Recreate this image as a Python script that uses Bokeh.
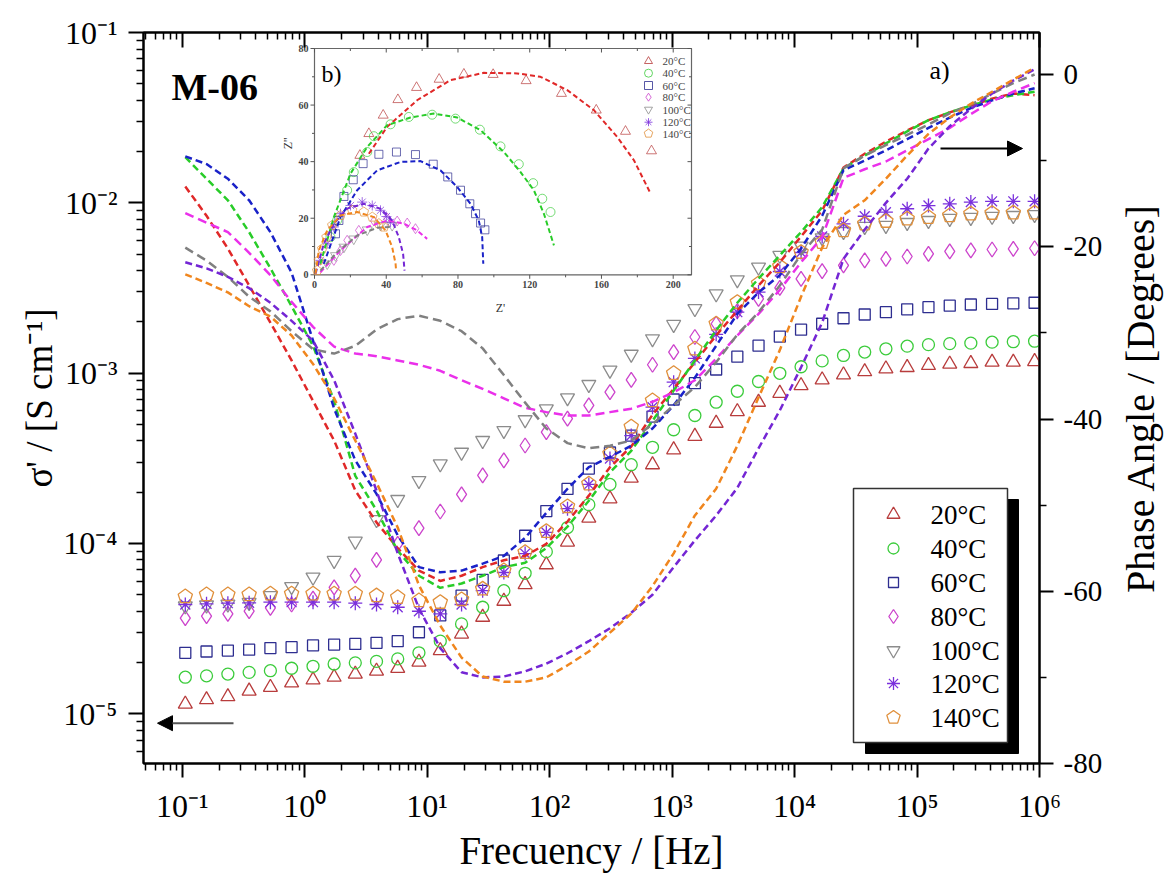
import math
from bokeh.plotting import figure
from bokeh.layouts import row
from bokeh.models import (Range1d, LinearScale, LinearAxis, LogAxis, FixedTicker,
                          CustomJSTickFormatter, Label, Arrow, NormalHead)
from bokeh.embed import file_html
from bokeh.resources import INLINE
from bokeh.core.properties import value

# ---------------- data: main plot ----------------
freq = [0.106, 0.158, 0.236, 0.352, 0.525, 0.782, 1.17, 1.74, 2.59, 3.86, 5.75, 8.57,
        12.8, 19.1, 28.4, 42.3, 63.1, 94.0, 140, 209, 311, 464, 692, 1030, 1535, 2290,
        3410, 5080, 7580, 11300, 16800, 25100, 37400, 55700, 83100, 124000, 185000,
        275000, 410000, 611000, 912000]

temps = ["20°C", "40°C", "60°C", "80°C", "100°C", "120°C", "140°C"]

s20 = [1.14e-5, 1.21e-5, 1.26e-5, 1.36e-5, 1.43e-5, 1.52e-5, 1.58e-5, 1.64e-5, 1.71e-5, 1.78e-5,
       1.85e-5, 2.01e-5, 2.35e-5, 2.94e-5, 3.69e-5, 4.58e-5, 5.74e-5, 7.5e-5, 1.02e-4, 1.41e-4,
       1.83e-4, 2.42e-4, 2.9e-4, 3.55e-4, 4.26e-4, 5.08e-4, 5.95e-4, 6.75e-4, 7.62e-4, 8.45e-4,
       9.14e-4, 9.77e-4, 1.02e-3, 1.06e-3, 1.08e-3, 1.11e-3, 1.13e-3, 1.14e-3, 1.16e-3, 1.16e-3, 1.17e-3]
s40 = [1.64e-5, 1.67e-5, 1.71e-5, 1.75e-5, 1.79e-5, 1.85e-5, 1.90e-5, 1.96e-5, 1.99e-5, 2.03e-5,
       2.10e-5, 2.28e-5, 2.67e-5, 3.37e-5, 4.22e-5, 5.28e-5, 6.68e-5, 8.95e-5, 1.24e-4, 1.69e-4,
       2.22e-4, 2.90e-4, 3.67e-4, 4.65e-4, 5.64e-4, 6.75e-4, 7.83e-4, 8.93e-4, 9.98e-4, 1.09e-3,
       1.18e-3, 1.27e-3, 1.33e-3, 1.39e-3, 1.44e-3, 1.47e-3, 1.49e-3, 1.50e-3, 1.52e-3, 1.53e-3, 1.54e-3]
s60 = [2.28e-5, 2.32e-5, 2.35e-5, 2.38e-5, 2.43e-5, 2.46e-5, 2.52e-5, 2.55e-5, 2.57e-5, 2.61e-5,
       2.67e-5, 3.01e-5, 3.78e-5, 4.94e-5, 6.11e-5, 7.94e-5, 1.11e-4, 1.55e-4, 2.09e-4, 2.75e-4,
       3.42e-4, 4.30e-4, 5.56e-4, 7.0e-4, 8.73e-4, 1.05e-3, 1.25e-3, 1.45e-3, 1.64e-3, 1.80e-3,
       1.95e-3, 2.10e-3, 2.21e-3, 2.28e-3, 2.37e-3, 2.44e-3, 2.49e-3, 2.53e-3, 2.55e-3, 2.57e-3, 2.59e-3]
s80 = [3.64e-5, 3.74e-5, 3.86e-5, 4.0e-5, 4.19e-5, 4.38e-5, 4.75e-5, 5.53e-5, 6.48e-5, 8.02e-5,
       9.95e-5, 1.23e-4, 1.54e-4, 1.94e-4, 2.51e-4, 3.07e-4, 3.76e-4, 4.50e-4, 5.40e-4, 6.46e-4,
       7.73e-4, 9.14e-4, 1.12e-3, 1.33e-3, 1.63e-3, 1.95e-3, 2.31e-3, 2.73e-3, 3.17e-3, 3.58e-3,
       3.97e-3, 4.29e-3, 4.59e-3, 4.69e-3, 4.84e-3, 5.02e-3, 5.18e-3, 5.25e-3, 5.32e-3, 5.37e-3, 5.41e-3]
s100 = [4.3e-5, 4.35e-5, 4.4e-5, 4.5e-5, 4.94e-5, 5.58e-5, 6.34e-5, 7.94e-5, 1.03e-4, 1.38e-4,
        1.81e-4, 2.34e-4, 2.93e-4, 3.43e-4, 4.02e-4, 4.60e-4, 5.32e-4, 6.17e-4, 7.16e-4, 8.57e-4,
        1.04e-3, 1.29e-3, 1.59e-3, 1.93e-3, 2.39e-3, 2.92e-3, 3.53e-3, 4.19e-3, 4.91e-3, 5.56e-3,
        6.23e-3, 6.78e-3, 7.26e-3, 7.36e-3, 7.66e-3, 7.87e-3, 8.09e-3, 8.2e-3, 8.32e-3, 8.42e-3, 8.53e-3]
s120 = [4.38e-5, 4.42e-5, 4.46e-5, 4.48e-5, 4.52e-5, 4.52e-5, 4.52e-5, 4.52e-5, 4.46e-5, 4.38e-5,
        4.22e-5, 4.0e-5, 3.86e-5, 4.38e-5, 5.28e-5, 6.75e-5, 8.72e-5, 1.16e-4, 1.60e-4, 2.22e-4,
        3.15e-4, 4.30e-4, 6.31e-4, 8.85e-4, 1.22e-3, 1.69e-3, 2.28e-3, 2.99e-3, 3.95e-3, 5.11e-3,
        6.34e-3, 7.53e-3, 8.34e-3, 8.81e-3, 9.23e-3, 9.64e-3, 9.87e-3, 1.01e-2, 1.02e-2, 1.02e-2, 1.02e-2]
s140 = [4.88e-5, 5.01e-5, 5.01e-5, 5.01e-5, 5.06e-5, 5.06e-5, 5.06e-5, 5.06e-5, 5.06e-5, 4.94e-5,
        4.83e-5, 4.62e-5, 4.52e-5, 4.69e-5, 5.41e-5, 6.93e-5, 8.87e-5, 1.18e-4, 1.65e-4, 2.24e-4,
        3.36e-4, 4.84e-4, 6.90e-4, 9.98e-4, 1.39e-3, 1.95e-3, 2.61e-3, 3.36e-3, 4.23e-3, 5.13e-3,
        5.87e-3, 6.87e-3, 7.53e-3, 7.80e-3, 8.05e-3, 8.22e-3, 8.42e-3, 8.61e-3, 8.69e-3, 8.73e-3, 8.73e-3]

ph20 = [-13.0, -16.4, -20.2, -24.5, -28.8, -33.2, -37.9, -42.5, -48.3, -52.0, -55.0, -57.6, -58.8,
        -58.2, -57.2, -56.4, -55.9, -54.5, -51.9, -48.9, -45.6, -43.2, -39.5, -36.5, -33.4, -30.3,
        -27.4, -24.5, -21.8, -18.8, -15.8, -10.8, -9.2, -7.8, -6.5, -5.3, -4.4, -3.6, -2.8, -2.2, -2.4]
ph40 = [-9.6, -12.1, -14.6, -18.3, -22.5, -26.9, -31.5, -37.9, -46.6, -50.6, -55.3, -58.2, -59.6,
        -59.1, -58.2, -57.2, -56.7, -55.0, -52.5, -49.5, -46.2, -43.7, -40.2, -36.7, -33.2, -29.7,
        -26.5, -23.7, -21.0, -18.3, -15.4, -10.9, -9.4, -8.0, -6.6, -5.3, -4.4, -3.6, -2.9, -2.4, -2.0]
ph60 = [-9.5, -10.4, -12.1, -14.6, -18.3, -23.0, -30.9, -38.8, -44.8, -48.7, -53.5, -57.2, -57.8,
        -57.6, -56.8, -55.9, -53.8, -50.9, -48.1, -45.6, -44.4, -43.1, -41.1, -38.4, -35.2, -31.5,
        -27.8, -25.3, -23.3, -20.2, -16.4, -11.1, -10.0, -8.8, -7.5, -6.2, -5.0, -3.9, -3.0, -2.2, -1.6]
ph80 = [-16.1, -17.2, -18.3, -20.7, -23.3, -26.4, -29.3, -31.6, -32.4, -32.7, -33.2, -33.7, -34.4,
        -35.5, -36.5, -37.6, -38.7, -39.2, -39.6, -39.6, -39.2, -38.8, -38.0, -36.9, -35.5, -33.0,
        -30.3, -27.8, -25.0, -21.8, -18.9, -12.0, -11.0, -10.1, -8.8, -7.5, -6.2, -4.6, -3.1, -2.0, -1.0]
ph100 = [-20.1, -21.6, -23.5, -25.8, -27.5, -29.8, -31.9, -32.4, -31.5, -29.6, -28.4, -28.0, -28.6,
         -29.8, -31.8, -34.9, -38.1, -41.1, -42.8, -43.4, -43.1, -42.5, -40.6, -38.4, -36.3, -33.4,
         -30.2, -27.6, -24.5, -20.9, -18.0, -10.9, -9.4, -8.2, -7.0, -5.8, -4.5, -3.5, -2.2, -1.0, 0.0]
ph120 = [-21.8, -22.5, -23.5, -24.8, -26.5, -28.6, -30.9, -35.5, -41.7, -48.3, -55.6, -62.0, -66.6,
         -69.4, -70.0, -69.9, -69.3, -68.4, -67.2, -65.8, -64.3, -62.5, -60.4, -57.2, -54.1, -51.2,
         -48.0, -43.4, -39.0, -34.0, -28.8, -21.4, -18.0, -14.9, -12.1, -8.6, -6.0, -4.0, -2.2, -0.7, 0.6]
ph140 = [-23.2, -24.2, -25.3, -26.9, -28.1, -30.3, -33.6, -37.6, -42.5, -47.4, -52.6, -59.3, -64.0,
         -67.7, -69.9, -70.5, -70.5, -70.0, -68.6, -67.0, -64.8, -62.6, -59.4, -55.6, -51.2, -48.1,
         -43.1, -37.5, -32.0, -25.8, -20.1, -16.3, -14.6, -12.1, -9.4, -6.9, -5.0, -3.4, -2.0, -0.6, 0.8]

x_major = [1e-1, 1e0, 1e1, 1e2, 1e3, 1e4, 1e5, 1e6]
y_major = [1e-5, 1e-4, 1e-3, 1e-2, 1e-1]
phase_major = [-80, -60, -40, -20, 0]
phase_minor = [-70, -50, -30, -10]

# ---------------- data: inset (Nyquist) ----------------
z20_re = [25.3, 30.3, 38.3, 46.5, 56.9, 69.5, 83.3, 99.6, 118.0, 137.7, 157.1, 173.4, 187.9]
z20_im = [42.2, 49.9, 56.4, 61.9, 66.2, 69.1, 70.9, 70.8, 68.6, 64.1, 58.2, 50.7, 43.8]
f20_re = [30.3, 40.5, 57.2, 75.8, 94.4, 113.0, 126.0, 140.9, 155.8, 168.8, 178.1, 187.4]
f20_im = [42.8, 52.3, 61.7, 68.8, 71.4, 71.2, 70.0, 65.3, 58.2, 48.7, 40.5, 28.7]
z40_re = [8.9, 12.6, 18.2, 21.9, 29.4, 33.1, 42.4, 52.6, 65.6, 78.6, 92.2, 103.7, 113.9, 121.9, 127.0, 131.6]
z40_im = [13.3, 19.2, 29.9, 36.3, 43.4, 49.0, 53.2, 55.8, 56.6, 55.2, 51.3, 45.4, 39.1, 32.4, 26.9, 22.2]
f40_re = [3.3, 10.8, 20.1, 29.4, 40.5, 53.5, 66.5, 79.6, 92.6, 105.6, 114.9, 122.3, 127.9, 133.5]
f40_im = [3.9, 20.4, 35.8, 45.2, 52.9, 55.6, 57.0, 55.6, 51.1, 43.4, 36.3, 29.9, 21.6, 10.4]
z60_re = [11.7, 13.6, 16.4, 21.6, 27.1, 35.9, 45.7, 56.3, 66.2, 74.3, 81.4, 86.6, 89.8, 92.6, 95.0]
z60_im = [14.5, 19.2, 27.7, 33.6, 39.3, 42.6, 43.4, 42.5, 39.1, 34.6, 29.9, 25.1, 21.6, 18.3, 15.9]
f60_re = [5.2, 14.5, 23.8, 34.9, 48.0, 59.1, 70.3, 79.6, 87.0, 91.6, 93.5, 94.1]
f60_im = [3.9, 20.4, 29.9, 36.9, 39.9, 40.2, 36.9, 31.0, 25.1, 19.2, 13.3, 3.9]
z80_re = [10.8, 14.5, 18.2, 24.7, 33.1, 40.5, 46.1, 51.7, 56.3]
z80_im = [5.1, 8.6, 12.2, 15.7, 19.0, 20.1, 19.0, 18.3, 16.3]
f80_re = [3.3, 14.5, 29.4, 40.5, 49.8, 57.2, 62.8]
f80_im = [0.9, 8.6, 16.9, 19.2, 18.1, 15.7, 12.7]
z100_re = [7.1, 11.7, 16.4, 21.9, 29.4, 36.8, 43.3]
z100_im = [3.9, 6.8, 9.8, 12.7, 15.9, 17.5, 17.5]
f100_re = [3.3, 12.6, 23.8, 34.9, 42.4]
f100_im = [1.5, 8.0, 13.9, 16.6, 16.9]
z120_re = [3.3, 7.1, 10.8, 14.5, 20.1, 26.6, 32.2, 36.8, 40.1, 42.4]
z120_im = [5.1, 11.0, 16.9, 21.6, 24.5, 25.7, 24.5, 22.8, 20.6, 18.6]
f120_re = [0.6, 5.2, 10.8, 18.2, 27.5, 36.8, 43.3, 47.0, 49.4, 50.2]
f120_im = [0.4, 11.0, 18.1, 23.4, 25.1, 23.4, 19.2, 13.3, 7.4, 1.5]
z140_re = [1.5, 2.4, 4.3, 6.7, 9.9, 14.5, 21.0, 27.5, 32.2, 35.9, 38.7]
z140_im = [1.5, 5.1, 9.2, 13.3, 17.5, 21.0, 22.8, 22.2, 20.4, 18.1, 16.9]
f140_re = [0.6, 2.4, 7.1, 14.5, 23.8, 33.1, 39.6, 43.3, 45.2, 45.5]
f140_im = [0.4, 8.6, 15.7, 21.0, 22.2, 20.4, 15.7, 9.8, 3.9, 1.5]

inset_x_major = [0, 40, 80, 120, 160, 200]
inset_x_minor = [20, 60, 100, 140, 180]
inset_y_major = [0, 20, 40, 60, 80]
inset_y_minor = [10, 30, 50, 70]

# ---------------- styles ----------------
FONT = "Liberation Serif"
mk_col = ["#b83c3c", "#3ccc3c", "#2e2e90", "#cc44cc", "#8c8c8c", "#7a30dc", "#e0903c"]
ln_col = ["#e02828", "#28cc28", "#1a22c8", "#ea30ea", "#808080", "#7426d4", "#f0861e"]
markers = ["triangle", "circle", "square", "diamond", "inverted_triangle", "asterisk", "pentagon"]
msize = [14, 12, 11, 15, 14, 14, 15]
sig = [s20, s40, s60, s80, s100, s120, s140]
phs = [ph20, ph40, ph60, ph80, ph100, ph120, ph140]
zre = [z20_re, z40_re, z60_re, z80_re, z100_re, z120_re, z140_re]
zim = [z20_im, z40_im, z60_im, z80_im, z100_im, z120_im, z140_im]
fre = [f20_re, f40_re, f60_re, f80_re, f100_re, f120_re, f140_re]
fim = [f20_im, f40_im, f60_im, f80_im, f100_im, f120_im, f140_im]

# ---------------- geometry ----------------
W, H = 1167, 877
W2 = 53                       # narrow side panel that carries the phase-axis title
W1 = W - W2
FL, FR, FT, FB = 143, 1039, 32, 763
LX0, LX1 = -1.316, 6.0
LY0, LY1 = -5.292, -1.0
PH0, PH1 = -80.0, 4.88
PXDX = (FR - FL) / (LX1 - LX0)
PXDY = (FB - FT) / (LY1 - LY0)


def fx(px):
    return 10 ** (LX0 + (px - FL) / PXDX)


def fy(py):
    return 10 ** (LY1 - (py - FT) / PXDY)


IL, IR, IT, IB = 314.0, 691.0, 48.0, 274.3
ZX1, ZY1 = 210.2, 80.0
ZXU = ZX1 / (IR - IL)
ZYU = ZY1 / (IB - IT)


def zx(px):
    return (px - IL) * ZXU


def zy(py):
    return (IB - py) * ZYU


p = figure(width=W1, height=H, x_axis_type="log", y_axis_type="log",
           x_range=Range1d(10 ** LX0, 10 ** LX1), y_range=Range1d(10 ** LY0, 10 ** LY1),
           output_backend="svg", toolbar_location=None,
           min_border_left=FL, min_border_right=W1 - FR, min_border_top=FT,
           min_border_bottom=H - FB, background_fill_color="white", border_fill_color="white")
p.extra_x_ranges = {"zx": Range1d(zx(FL), zx(FR))}
p.extra_y_ranges = {"phase": Range1d(PH0, PH1), "zy": Range1d(zy(FB), zy(FT))}
p.extra_x_scales = {"zx": LinearScale()}
p.extra_y_scales = {"phase": LinearScale(), "zy": LinearScale()}
p.xgrid.visible = False
p.ygrid.visible = False
p.outline_line_color = "black"
p.outline_line_width = 2

SUP_JS = r"""
const e = Math.round(Math.log10(tick));
const m = {"-": "\u207b", "0": "\u2070", "1": "\u00b9", "2": "\u00b2", "3": "\u00b3",
           "4": "\u2074", "5": "\u2075", "6": "\u2076", "7": "\u2077", "8": "\u2078", "9": "\u2079"};
let s = "";
for (const c of String(e)) { s += m[c]; }
return "10" + s;
"""

x_minor = [m * 10 ** d for d in range(-2, 6) for m in range(2, 10)]
y_minor = [m * 10 ** d for d in range(-6, -1) for m in range(2, 10)]


def style_axis(ax, tick_in, tick_out, mtick_in, mtick_out, label_size, title_size="39px"):
    ax.axis_line_width = 2
    ax.major_tick_line_width = 2
    ax.minor_tick_line_width = 1.5
    ax.major_tick_in = tick_in
    ax.major_tick_out = tick_out
    ax.minor_tick_in = mtick_in
    ax.minor_tick_out = mtick_out
    ax.major_label_text_font = FONT
    ax.major_label_text_font_size = label_size
    ax.major_label_text_color = "black"
    ax.axis_label_text_font = FONT
    ax.axis_label_text_font_style = "normal"
    ax.axis_label_text_font_size = title_size
    ax.axis_label_text_color = "black"


bx = p.xaxis[0]
bx.ticker = FixedTicker(ticks=x_major, minor_ticks=x_minor)
bx.formatter = CustomJSTickFormatter(code=SUP_JS)
style_axis(bx, 0, 14, 0, 7, "32px", "39px")
bx.major_label_standoff = 10
bx.axis_label = "Frecuency / [Hz]"
bx.axis_label_standoff = 2

ly = p.yaxis[0]
ly.ticker = FixedTicker(ticks=y_major, minor_ticks=y_minor)
ly.formatter = CustomJSTickFormatter(code=SUP_JS)
style_axis(ly, 0, 15, 0, 7, "32px", "37px")
ly.major_label_standoff = 11
ly.axis_label = "σ' / [S cm⁻¹]"
ly.axis_label_standoff = 0

top = LogAxis(ticker=FixedTicker(ticks=x_major, minor_ticks=x_minor),
              formatter=CustomJSTickFormatter(code='return "";'))
style_axis(top, 15, 0, 7, 0, "0px")
top.major_label_standoff = 0
p.add_layout(top, "above")

ry = LinearAxis(y_range_name="phase",
                ticker=FixedTicker(ticks=phase_major, minor_ticks=phase_minor),
                formatter=CustomJSTickFormatter(code="return tick.toFixed(0);"))
style_axis(ry, 0, 14, 0, 7, "29px", "40px")
ry.major_label_standoff = 10
p.add_layout(ry, "right")


def pent_log(xs, ys, r):
    XX, YY = [], []
    for x, y in zip(xs, ys):
        vx, vy = [], []
        for j in range(5):
            a = math.pi / 2 + 2 * math.pi * j / 5
            vx.append(x * 10 ** (r * math.cos(a) / PXDX))
            vy.append(y * 10 ** (r * math.sin(a) / PXDY))
        XX.append(vx)
        YY.append(vy)
    return XX, YY


def pent_lin(xs, ys, r):
    XX, YY = [], []
    for x, y in zip(xs, ys):
        vx, vy = [], []
        for j in range(5):
            a = math.pi / 2 + 2 * math.pi * j / 5
            vx.append(x + r * math.cos(a) * ZXU)
            vy.append(y + r * math.sin(a) * ZYU)
        XX.append(vx)
        YY.append(vy)
    return XX, YY


# ---------------- main markers ----------------
for i in range(7):
    if markers[i] == "pentagon":
        xs, ys = pent_log(freq, sig[i], 7.5)
        p.patches(xs, ys, fill_color=None, line_color=mk_col[i], line_width=1.3)
    else:
        p.scatter(freq, sig[i], marker=markers[i], size=msize[i], fill_color=None,
                  line_color=mk_col[i], line_width=1.3)

# ---------------- phase lines ----------------
dashes = ["7 4", "7 4", "7 4", "9 5", "9 5", "7 4", "7 4"]
for i in range(7):
    p.line(freq, phs[i], y_range_name="phase", line_color=ln_col[i], line_width=2.5,
           line_dash=dashes[i])

# ---------------- inset ----------------
R = dict(x_range_name="zx", y_range_name="zy")
p.quad(left=0, right=ZX1, bottom=0, top=ZY1, fill_color="white", line_color="#666666",
       line_width=1.2, **R)

TM, TN = 4.0, 2.5
bx0, bx1, by0, by1 = [], [], [], []
for t in inset_x_major:
    bx0 += [t, t]; bx1 += [t, t]
    by0 += [0, ZY1]; by1 += [-TM * ZYU, ZY1 - TM * ZYU]
for t in inset_x_minor:
    bx0 += [t, t]; bx1 += [t, t]
    by0 += [0, ZY1]; by1 += [-TN * ZYU, ZY1 - TN * ZYU]
for t in inset_y_major:
    bx0 += [0, ZX1]; bx1 += [-TM * ZXU, ZX1 - TM * ZXU]
    by0 += [t, t]; by1 += [t, t]
for t in inset_y_minor:
    bx0 += [0, ZX1]; bx1 += [-TN * ZXU, ZX1 - TN * ZXU]
    by0 += [t, t]; by1 += [t, t]
p.segment(bx0, by0, bx1, by1, line_color="#555555", line_width=1, **R)

p.text(x=inset_x_major, y=[-6 * ZYU] * len(inset_x_major),
       text=[str(t) for t in inset_x_major], text_font=value(FONT), text_font_size="10px",
       text_font_style="bold", text_color="#444444", text_align="center", text_baseline="top", **R)
p.text(x=[-6 * ZXU] * len(inset_y_major), y=inset_y_major,
       text=[str(t) for t in inset_y_major], text_font=value(FONT), text_font_size="10px",
       text_font_style="bold", text_color="#444444", text_align="right", text_baseline="middle", **R)
p.text(x=[zx(500)], y=[zy(307)], text=["Z'"], text_font=value(FONT), text_font_size="12px",
       text_color="#333333", text_align="center", text_baseline="middle", **R)
p.text(x=[zx(287)], y=[zy(143)], text=["Z''"], text_font=value(FONT), text_font_size="12px",
       text_color="#333333", text_align="center", text_baseline="middle", angle=math.pi / 2, **R)
p.text(x=[zx(321)], y=[zy(73)], text=["b)"], text_font=value(FONT), text_font_size="24px",
       text_color="black", text_align="left", text_baseline="middle", **R)

imsize = [10, 9, 8, 10, 10, 10, 10]
for i in range(7):
    if markers[i] == "pentagon":
        xs, ys = pent_lin(zre[i], zim[i], 5.0)
        p.patches(xs, ys, fill_color=None, line_color=mk_col[i], line_width=1, alpha=0.7, **R)
    else:
        p.scatter(zre[i], zim[i], marker=markers[i], size=imsize[i], fill_color=None,
                  line_color=mk_col[i], line_width=1, alpha=0.7, **R)
for i in range(7):
    p.line(fre[i], fim[i], line_color=ln_col[i], line_width=2, line_dash="5 3", **R)

# inset legend
il_rows = [60.7, 72.7, 85.0, 96.7, 109.0, 121.7, 133.0]
for i in range(7):
    if markers[i] == "pentagon":
        xs, ys = pent_lin([zx(648)], [zy(il_rows[i])], 4.5)
        p.patches(xs, ys, fill_color=None, line_color=mk_col[i], line_width=1, alpha=0.8, **R)
    else:
        p.scatter([zx(648)], [zy(il_rows[i])], marker=markers[i], size=8, fill_color=None,
                  line_color=mk_col[i], line_width=1, alpha=0.8, **R)
p.text(x=[zx(662)] * 7, y=[zy(r) for r in il_rows], text=temps, text_font=value(FONT),
       text_font_size="11px", text_color="#444444", text_align="left", text_baseline="middle", **R)

# ---------------- main legend ----------------
p.quad(left=fx(865), right=fx(1018), top=fy(499), bottom=fy(753), fill_color="black",
       line_color="black")
p.quad(left=fx(853), right=fx(1007), top=fy(488), bottom=fy(742), fill_color="white",
       line_color="#333333", line_width=1.5)
lg_rows = [514, 548, 582, 616, 650, 683, 717]
for i in range(7):
    if markers[i] == "pentagon":
        xs, ys = pent_log([fx(893)], [fy(lg_rows[i])], 7.0)
        p.patches(xs, ys, fill_color=None, line_color=mk_col[i], line_width=1.3)
    else:
        p.scatter([fx(893)], [fy(lg_rows[i])], marker=markers[i], size=msize[i] - 1,
                  fill_color=None, line_color=mk_col[i], line_width=1.3)
p.text(x=[fx(930)] * 7, y=[fy(r) for r in lg_rows], text=temps, text_font=value(FONT),
       text_font_size="27px", text_color="black", text_align="left", text_baseline="middle")

# ---------------- annotations ----------------
p.add_layout(Label(x=fx(171), y=fy(86), text="M-06", text_font=FONT, text_font_style="bold",
                   text_font_size="38px", text_color="black", text_baseline="middle"))
p.add_layout(Label(x=fx(929), y=fy(70), text="a)", text_font=FONT, text_font_size="26px",
                   text_color="black", text_baseline="middle"))
p.add_layout(Arrow(x_start=fx(233), y_start=fy(722.7), x_end=fx(157), y_end=fy(722.7),
                   line_color="#555555", line_width=2,
                   end=NormalHead(size=15, fill_color="black", line_color="black")))
p.add_layout(Arrow(x_start=fx(940), y_start=fy(148), x_end=fx(1022), y_end=fy(148),
                   line_color="black", line_width=2,
                   end=NormalHead(size=15, fill_color="black", line_color="black")))

# ---------------- side panel carrying the phase-axis title (reads bottom-to-top) ----------------
p2 = figure(width=W2, height=H, x_range=Range1d(0, 1), y_range=Range1d(PH0, PH1),
            x_axis_location=None, y_axis_location="left", output_backend="svg",
            toolbar_location=None, min_border_left=0, min_border_right=0,
            min_border_top=FT, min_border_bottom=H - FB,
            background_fill_color="white", border_fill_color="white")
p2.outline_line_color = None
p2.xgrid.visible = False
p2.ygrid.visible = False
ya = p2.yaxis[0]
ya.ticker = FixedTicker(ticks=[])
ya.formatter = CustomJSTickFormatter(code='return "";')
ya.axis_line_color = None
ya.major_tick_line_color = None
ya.minor_tick_line_color = None
ya.major_tick_out = 0
ya.minor_tick_out = 0
ya.major_label_standoff = 0
ya.major_label_text_font_size = "0px"
ya.axis_label = "Phase Angle / [Degrees]"
ya.axis_label_text_font = FONT
ya.axis_label_text_font_style = "normal"
ya.axis_label_text_font_size = "40px"
ya.axis_label_text_color = "black"
ya.axis_label_standoff = 0

layout = row(p, p2, spacing=0)
open("out.html", "w").write(file_html(layout, INLINE))
